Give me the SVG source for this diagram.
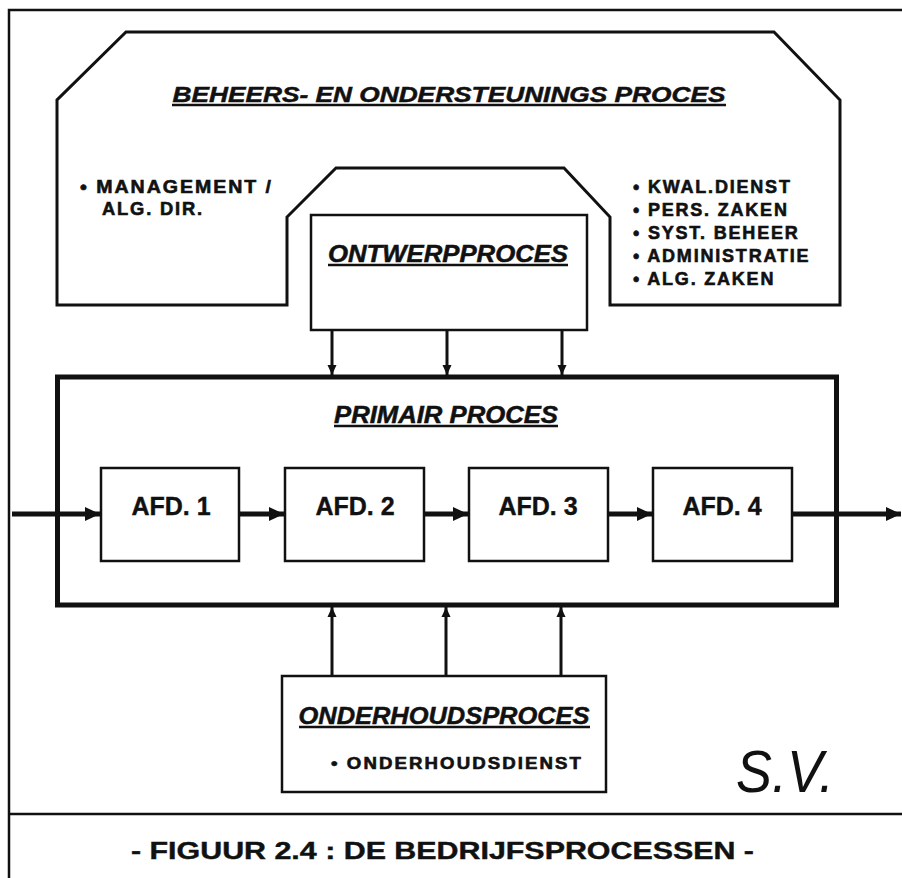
<svg xmlns="http://www.w3.org/2000/svg" width="902" height="878" viewBox="0 0 902 878">
<style>
.ln{fill:none;stroke:#111;stroke-linejoin:miter}
.box{fill:#fff;stroke:#111;stroke-width:2.5}
.ttl{font-family:"Liberation Sans",Arial,sans-serif;font-weight:bold;font-style:italic;fill:#111;stroke:#111;stroke-width:0.5}
.itm{font-family:"Liberation Sans",Arial,sans-serif;font-weight:bold;fill:#111;stroke:#111;stroke-width:0.6;letter-spacing:1.8px}
.afd{font-family:"Liberation Sans",Arial,sans-serif;font-weight:bold;fill:#111;stroke:#111;stroke-width:0.4;font-size:25px;text-anchor:middle}
.ul{stroke:#111;stroke-width:2.5}
.ah{stroke:#111;stroke-width:5;fill:none}
.av{stroke:#111;stroke-width:3;fill:none}
</style>
<defs>
<marker id="hbig" markerUnits="userSpaceOnUse" markerWidth="16" markerHeight="16" refX="15" refY="8" orient="auto">
<path d="M0,1 L15,8 L0,15 Z" fill="#111"/>
</marker>
<marker id="hsm" markerUnits="userSpaceOnUse" markerWidth="10" markerHeight="12" refX="10" refY="5" orient="auto">
<path d="M0,0.5 L10,5 L0,9.5 Z" fill="#111"/>
</marker>
</defs>
<rect width="902" height="878" fill="#fff"/>
<g id="frame">
<path class="ln" stroke-width="2.5" d="M9,878 L9,10 L902,10"/>
<line class="ln" stroke-width="2.5" x1="9" y1="814" x2="902" y2="814"/>
</g>
<g id="beheers">
<path class="ln" stroke-width="3" d="M287,305 L57,305 L57,100 L126,32 L774,32 L840,100 L840,305 L610,305 L610,217 L564,168 L336,168 L287,217 Z"/>
<text class="ttl" x="449" y="102" font-size="22" text-anchor="middle" textLength="553" lengthAdjust="spacingAndGlyphs">BEHEERS- EN ONDERSTEUNINGS PROCES</text>
<line class="ul" x1="172" y1="105" x2="726" y2="105"/>
<text class="itm" x="80" y="193" font-size="18" textLength="193" lengthAdjust="spacingAndGlyphs">• MANAGEMENT /</text>
<text class="itm" x="102" y="215" font-size="18" textLength="102" lengthAdjust="spacingAndGlyphs">ALG. DIR.</text>
<text class="itm" x="633" y="193" font-size="18">• KWAL.DIENST</text>
<text class="itm" x="633" y="216" font-size="18">• PERS. ZAKEN</text>
<text class="itm" x="633" y="239" font-size="18">• SYST. BEHEER</text>
<text class="itm" x="633" y="262" font-size="18">• ADMINISTRATIE</text>
<text class="itm" x="633" y="285" font-size="18">• ALG. ZAKEN</text>
</g>
<g id="ontwerp">
<rect class="box" x="311" y="215" width="276" height="115"/>
<text class="ttl" x="448" y="262" font-size="23" text-anchor="middle" textLength="240" lengthAdjust="spacingAndGlyphs">ONTWERPPROCES</text>
<line class="ul" x1="328" y1="265" x2="568" y2="265"/>
</g>
<g id="primair">
<rect x="57.5" y="377" width="779" height="228" fill="none" stroke="#111" stroke-width="5"/>
<text class="ttl" x="446" y="423" font-size="23" text-anchor="middle" textLength="224" lengthAdjust="spacingAndGlyphs">PRIMAIR PROCES</text>
<line class="ul" x1="334" y1="426" x2="558" y2="426"/>
</g>
<g id="afd1">
<rect class="box" x="101" y="468" width="138" height="93"/>
<text class="afd" x="171" y="515">AFD. 1</text>
</g>
<g id="afd2">
<rect class="box" x="285" y="468" width="139" height="93"/>
<text class="afd" x="355" y="515">AFD. 2</text>
</g>
<g id="afd3">
<rect class="box" x="469" y="468" width="139" height="93"/>
<text class="afd" x="538" y="515">AFD. 3</text>
</g>
<g id="afd4">
<rect class="box" x="653" y="468" width="139" height="93"/>
<text class="afd" x="722" y="515">AFD. 4</text>
</g>
<g id="onderhoud">
<rect class="box" x="282" y="676" width="324" height="116"/>
<text class="ttl" x="444" y="724" font-size="24" text-anchor="middle" textLength="291" lengthAdjust="spacingAndGlyphs">ONDERHOUDSPROCES</text>
<line class="ul" x1="299" y1="727" x2="590" y2="727"/>
<text class="itm" x="331" y="769" font-size="16" textLength="252" lengthAdjust="spacingAndGlyphs">• ONDERHOUDSDIENST</text>
</g>
<g id="connectors">
<line class="ah" x1="12" y1="514" x2="100" y2="514" marker-end="url(#hbig)"/>
<line class="ah" x1="239" y1="514" x2="284" y2="514" marker-end="url(#hbig)"/>
<line class="ah" x1="424" y1="514" x2="468" y2="514" marker-end="url(#hbig)"/>
<line class="ah" x1="608" y1="514" x2="652" y2="514" marker-end="url(#hbig)"/>
<line class="ah" x1="792" y1="514" x2="901" y2="514" marker-end="url(#hbig)"/>
<line class="av" x1="332" y1="331" x2="332" y2="375" marker-end="url(#hsm)"/>
<line class="av" x1="447" y1="331" x2="447" y2="375" marker-end="url(#hsm)"/>
<line class="av" x1="562" y1="331" x2="562" y2="375" marker-end="url(#hsm)"/>
<line class="av" x1="332" y1="675" x2="332" y2="607" marker-end="url(#hsm)"/>
<line class="av" x1="446" y1="675" x2="446" y2="607" marker-end="url(#hsm)"/>
<line class="av" x1="561" y1="675" x2="561" y2="607" marker-end="url(#hsm)"/>
</g>
<g id="sv">
<text x="736" y="792" font-family="'Liberation Sans',Arial,sans-serif" font-style="italic" font-size="60" fill="#111" textLength="98" lengthAdjust="spacingAndGlyphs">S.V.</text>
</g>
<g id="caption">
<text x="131" y="859" font-family="'Liberation Sans',Arial,sans-serif" font-weight="bold" font-size="23" fill="#111" stroke="#111" stroke-width="0.4" textLength="623" lengthAdjust="spacingAndGlyphs">- FIGUUR 2.4 : DE BEDRIJFSPROCESSEN -</text>
</g>
</svg>
